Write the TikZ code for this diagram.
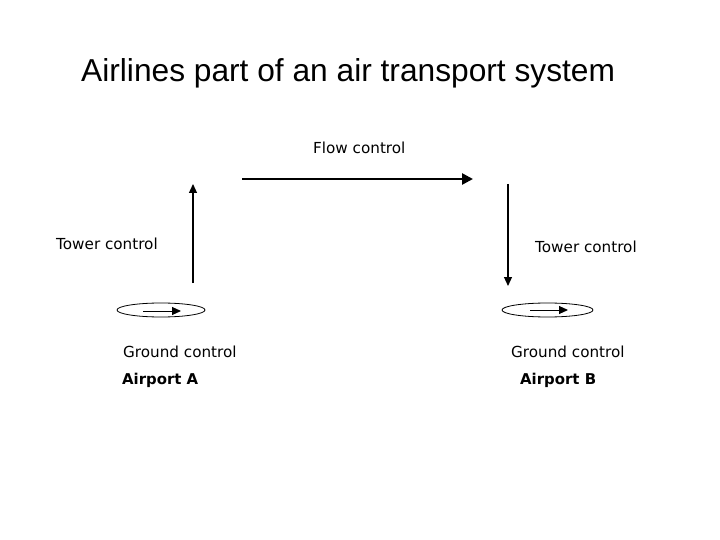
\documentclass[tikz,border=0pt]{standalone}
\usepackage{fontspec}
\setmainfont{Liberation Sans}
\newfontfamily\vfont{DejaVu Sans}
\usetikzlibrary{arrows.meta}
\begin{document}
\begin{tikzpicture}[x=1pt,y=-1pt,
  lbl/.style={font=\vfont\fontsize{15.2}{18}\selectfont, inner sep=0pt, anchor=base west},
  blbl/.style={font=\vfont\bfseries\fontsize{14.9}{18}\selectfont, inner sep=0pt, anchor=base west},
  thinarrow/.style={line width=1.2pt, -{Triangle[length=9pt,width=8pt]}},
  thickarrow/.style={line width=2.6pt, -{Triangle[length=11pt,width=11pt]}},
  padarrow/.style={line width=1pt, -{Triangle[length=9pt,width=8pt]}},
  pad/.style={line width=0.8pt}]
\useasboundingbox (0,0) rectangle (720,540);
\node[inner sep=0pt, anchor=base west, font=\fontsize{31.7}{36}\selectfont] (title) at (81,82) {Airlines part of an air transport system};
\node[lbl] (flow) at (313,154) {Flow control};
\coordinate (fs) at (242,179);
\coordinate (fe) at (473,179);
\draw[thickarrow] (fs) -- (fe);
\node[lbl] (towA) at (56,249) {Tower control};
\node[lbl] (towB) at (535,252) {Tower control};
\coordinate (aTop) at (193,184);
\coordinate (aBot) at (193,283);
\draw[thinarrow] (aBot) -- (aTop);
\coordinate (bTop) at (508,184);
\coordinate (bBot) at (508,286);
\draw[thinarrow] (bTop) -- (bBot);
\draw[pad] (161,310) ellipse [x radius=44, y radius=7];
\coordinate (a1) at (143,311);
\coordinate (a2) at (181,311);
\draw[padarrow] (a1) -- (a2);
\draw[pad] (547.5,310) ellipse [x radius=45.5, y radius=7];
\coordinate (b1) at (530,310);
\coordinate (b2) at (568,310);
\draw[padarrow] (b1) -- (b2);
\node[lbl] (gA) at (123,357) {Ground control};
\node[lbl] (gB) at (511,357) {Ground control};
\node[blbl] (apA) at (122,384) {Airport A};
\node[blbl] (apB) at (520,384) {Airport B};
\end{tikzpicture}
\end{document}
